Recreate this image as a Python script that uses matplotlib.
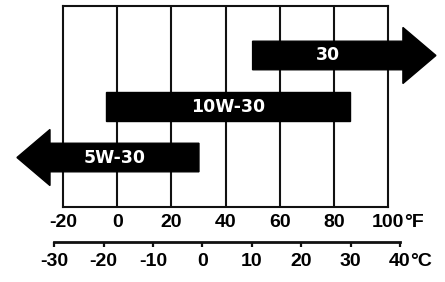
import matplotlib.pyplot as plt
from matplotlib.patches import Polygon

# oil grades and their temperature range in degrees C (None = open ended)
grades = ["5W-30", "10W-30", "30"]
low_c = [None, -20, 10]
high_c = [-1, 30, None]

f_ticks = [-20, 0, 20, 40, 60, 80, 100]
c_ticks = [-30, -20, -10, 0, 10, 20, 30, 40]


def c_to_f(c):
    return c * 9 / 5 + 32


W, H = 445, 282
fig = plt.figure(figsize=(W / 100, H / 100), dpi=100)

# main grid box, x in deg F
ax = fig.add_axes([63 / W, 1 - 207 / H, 325 / W, 201 / H])
ax.set_xlim(-20, 100)
ax.set_ylim(-0.97, 2.97)
ax.vlines(f_ticks[1:-1], -0.97, 2.97, color="#111111", lw=1.5, zorder=1)
for s in ax.spines.values():
    s.set_linewidth(1.5)
    s.set_color("#111111")
ax.set_yticks([])
ax.set_xticks(f_ticks)
ax.set_xticklabels([str(t) for t in f_ticks], fontfamily="Liberation Sans",
                   fontweight="bold", fontsize=14)
ax.tick_params(axis="x", length=0, pad=5)
ax.annotate("°F", xy=(100, 0), xycoords=("data", "axes fraction"),
            xytext=(11.5, -5), textcoords="offset points", ha="left", va="top",
            fontfamily="Liberation Sans", fontweight="bold", fontsize=14)

bar_h = 0.28       # half height of arrow shaft
head_h = 0.55      # half height of arrow head
head_len = 12.2    # in deg F
right_base = 105.5
left_base = -24.8
label_shift = {"5W-30": -3.7}

for i, (g, lo, hi) in enumerate(zip(grades, low_c, high_c)):
    y = i
    if lo is None:
        end = c_to_f(hi)
        pts = [(left_base - head_len, y), (left_base, y + head_h), (left_base, y + bar_h),
               (end, y + bar_h), (end, y - bar_h), (left_base, y - bar_h),
               (left_base, y - head_h)]
        x0, x1 = left_base, end
    elif hi is None:
        start = c_to_f(lo)
        pts = [(start, y - bar_h), (start, y + bar_h), (right_base, y + bar_h),
               (right_base, y + head_h), (right_base + head_len, y),
               (right_base, y - head_h), (right_base, y - bar_h)]
        x0, x1 = start, right_base
    else:
        x0, x1 = c_to_f(lo), c_to_f(hi)
        pts = [(x0, y - bar_h), (x0, y + bar_h), (x1, y + bar_h), (x1, y - bar_h)]
    ax.add_patch(Polygon(pts, closed=True, color="black", clip_on=False, zorder=3))
    ax.text((x0 + x1) / 2 + label_shift.get(g, 0), y, g, color="white",
            ha="center", va="center", fontfamily="DejaVu Sans",
            fontweight="bold", fontsize=12.5, zorder=4)

# celsius scale underneath
cax = fig.add_axes([54.3 / W, 1 - 241.7 / H, (400 - 54.3) / W, 0.0001])
cax.set_xlim(-30, 40)
cax.patch.set_visible(False)
for k in ["top", "left", "right"]:
    cax.spines[k].set_visible(False)
cax.spines["bottom"].set_linewidth(2)
cax.spines["bottom"].set_color("#111111")
cax.set_yticks([])
cax.set_xticks(c_ticks)
cax.set_xticklabels([str(t) for t in c_ticks], fontfamily="Liberation Sans",
                    fontweight="bold", fontsize=14)
cax.tick_params(axis="x", direction="out", length=3.6, width=1.6,
                color="#111111", pad=4.5)
cax.annotate("°C", xy=(40, 0), xycoords=("data", "axes fraction"),
             xytext=(7.5, -8.1), textcoords="offset points", ha="left", va="top",
             fontfamily="Liberation Sans", fontweight="bold", fontsize=14)

fig.savefig("out.png", dpi=100)
